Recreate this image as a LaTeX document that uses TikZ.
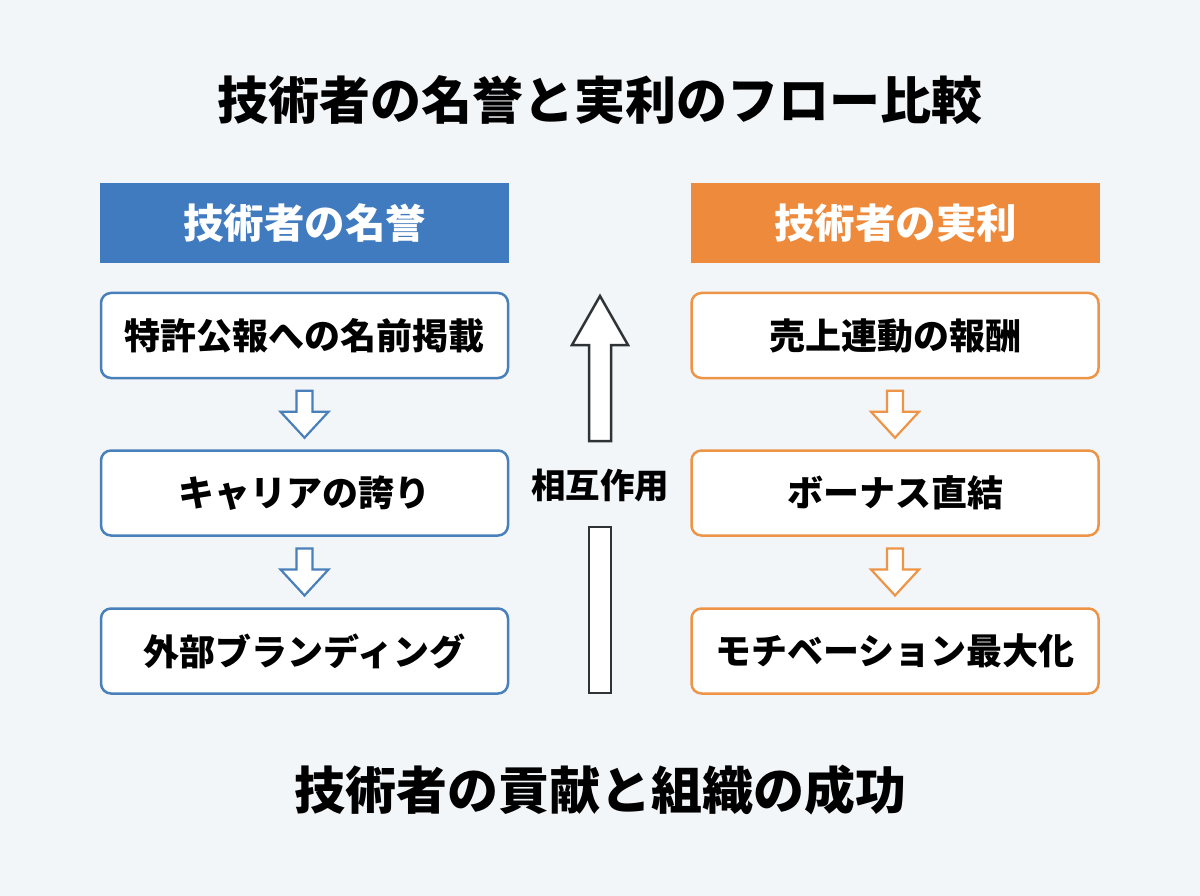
\documentclass[tikz,border=0pt]{standalone}
\usepackage{fontspec}
\setmainfont{Noto Sans CJK JP}
\usetikzlibrary{calc}
\definecolor{bg}{HTML}{F3F6F9}
\definecolor{hblue}{HTML}{407BBF}
\definecolor{bblue}{HTML}{4A80BA}
\definecolor{horange}{HTML}{EE8A3B}
\definecolor{borange}{HTML}{EE9447}
\definecolor{dark}{HTML}{2F3336}
\tikzset{
  hdr/.style={minimum width=409pt, minimum height=80pt, inner sep=0pt, text=white, font=\fontsize{40.5}{44}\selectfont\bfseries},
  itembox/.style={draw, fill=white, line width=2.5pt, rounded corners=10pt, minimum width=407pt, minimum height=85pt, inner sep=0pt, text=black, font=\fontsize{36}{40}\selectfont\bfseries},
  bluebox/.style={itembox, draw=bblue},
  orangebox/.style={itembox, draw=borange},
  downarr/.pic={\draw[line width=2.2pt, line join=miter, fill=white, pic actions] (-8,-23.5) -- (8,-23.5) -- (8,-2.5) -- (24,-2.5) -- (0,23.5) -- (-24,-2.5) -- (-8,-2.5) -- cycle;},
  bigtext/.style={font=\fontsize{51}{56}\selectfont\bfseries, text=black},
}
\begin{document}
\begin{tikzpicture}[x=1pt,y=-1pt]
\useasboundingbox (0,0) rectangle (1200,896);
\fill[bg] (0,0) rectangle (1200,896);

\node[bigtext] (title) at (600,100) {技術者の名誉と実利のフロー比較};

\node[hdr, fill=hblue] (lh) at (304.5,223) {技術者の名誉};
\node[hdr, fill=horange] (rh) at (895.5,223) {技術者の実利};

\node[bluebox] (l1) at (304.5,335.5) {特許公報への名前掲載};
\node[bluebox] (l2) at (304.5,493) {キャリアの誇り};
\node[bluebox] (l3) at (304.5,651) {外部ブランディング};

\node[orangebox] (r1) at (895,335.5) {売上連動の報酬};
\node[orangebox] (r2) at (895,493) {ボーナス直結};
\node[orangebox] (r3) at (895,651) {モチベーション最大化};

\path ($(l1.south)!0.5!(l2.north)$) pic[draw=bblue] {downarr};
\path ($(l2.south)!0.5!(l3.north)$) pic[draw=bblue] {downarr};
\path ($(r1.south)!0.5!(r2.north)$) pic[draw=borange] {downarr};
\path ($(r2.south)!0.5!(r3.north)$) pic[draw=borange] {downarr};

\node[font=\fontsize{34.5}{38}\selectfont\bfseries] (mid) at (600,485) {相互作用};
\coordinate (tip) at (600,296);
\draw[dark, line width=2.5pt, fill=white, line join=miter] (tip) -- (628,345) -- (611,345) -- (611,441) -- (589,441) -- (589,345) -- (572,345) -- cycle;
\draw[dark, line width=2.5pt, fill=white] (589,527) rectangle (611,693);

\node[bigtext] (foot) at (600,790) {技術者の貢献と組織の成功};
\end{tikzpicture}
\end{document}
